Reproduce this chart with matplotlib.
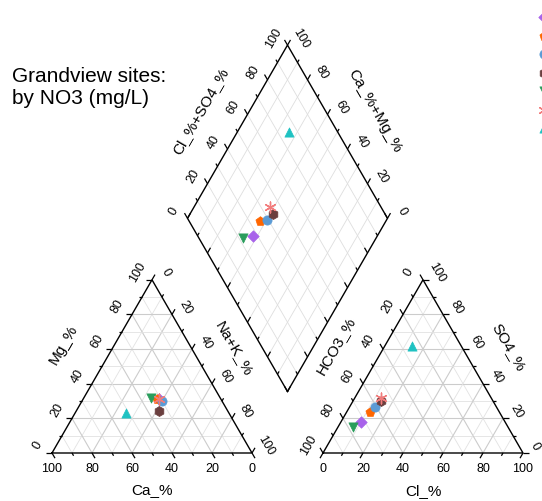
import numpy as np
import matplotlib
matplotlib.use('Agg')
import matplotlib.pyplot as plt

plt.rcParams['font.family'] = ['Liberation Sans', 'DejaVu Sans']

# site values in percent
colors = ['#a862ea', '#ff6600', '#5b9bd5', '#6b3f3f', '#2a9d5c', '#f27c7c', '#1fc2c2']
markers = ['D', 'p', 'o', 'h', 'v', (6, 2, 0), '^']
sizes = [34, 48, 44, 52, 44, 60, 44]
ca = [31, 32, 30, 34.5, 34.5, 31, 51.5]
mg = [31, 31, 30, 24, 32, 31, 23]
cl = [9.8, 11.75, 12.8, 14, 7.4, 13.2, 13.5]
so4 = [18, 23.5, 26.4, 29.9, 14.8, 31.6, 62]
ticks = [0, 20, 40, 60, 80, 100]

S = np.sqrt(3) / 2
G = 0.355
B = np.array([1 + G / 2, G * S])
U1 = np.array([0.5, S])
U2 = np.array([-0.5, S])

'''cation triangle position'''
def cat_xy(c, m):
    n = 1 - c - m
    return np.array([n + m / 2, m * S])

'''anion triangle position'''
def an_xy(c, s):
    return np.array([1 + G + c + s / 2, s * S])

'''diamond position'''
def dia_xy(a, c):
    return B + a * U1 + c * U2

fig = plt.figure(figsize=(5.42, 5.02), dpi=100)
ax = fig.add_axes([0, 0, 1, 1])
ax.set_xlim(-0.26, 2.45)
ax.set_ylim(-0.24, 2.27)
ax.axis('off')

def seg(p, q, **kw):
    ax.plot([p[0], q[0]], [p[1], q[1]], solid_capstyle='butt', **kw)

def grid_style(k):
    if k % 20 == 0:
        return dict(color='#cccccc', lw=0.8, zorder=1)
    return dict(color='#e2e2e2', lw=0.6, zorder=1)

def tick(p, d, k):
    ln = 0.03 if k % 20 == 0 else 0.016
    d = np.array(d) / np.hypot(*d)
    seg(p, p + d * ln, color='black', lw=0.9, zorder=3)

fs_t = 9
# grids and ticks
for k in range(0, 101, 10):
    f = k / 100
    if 0 < k < 100:
        st = grid_style(k)
        # cation
        seg(cat_xy(1 - f, f), cat_xy(0, f), **st)
        seg(cat_xy(1 - f, 0), cat_xy(0, 1 - f), **st)
        seg(cat_xy(f, 0), cat_xy(f, 1 - f), **st)
        # anion
        seg(an_xy(0, f), an_xy(1 - f, f), **st)
        seg(an_xy(f, 0), an_xy(f, 1 - f), **st)
        seg(an_xy(1 - f, 0), an_xy(0, 1 - f), **st)
        # diamond
        dst = dict(color='#dedede', lw=0.6, zorder=1)
        seg(dia_xy(f, 0), dia_xy(f, 1), **dst)
        seg(dia_xy(0, f), dia_xy(1, f), **dst)
    # cation ticks
    tick(cat_xy(f, 0), (0.5, -S), k)
    tick(cat_xy(1 - f, f), (-1, 0), k)
    tick(cat_xy(0, 1 - f), (0.5, S), k)
    # anion ticks
    tick(an_xy(f, 0), (-0.5, -S), k)
    tick(an_xy(0, f), (-0.5, S), k)
    tick(an_xy(1 - f, f), (1, 0), k)
    # diamond ticks
    tick(dia_xy(f, 1), U2, k)
    tick(dia_xy(1, f), U1, k)
    tick(dia_xy(0, f), U1, k)
    tick(dia_xy(f, 0), U2, k)

for k in ticks:
    f = k / 100
    nl = np.array([-S, 0.5])
    nr = np.array([S, 0.5])
    p = cat_xy(f, 0)
    ax.text(p[0], p[1] - 0.075, str(k), ha='center', va='center', fontsize=fs_t)
    p = cat_xy(1 - f, f) + nl * 0.085
    ax.text(p[0], p[1], str(k), ha='center', va='center', fontsize=fs_t, rotation=60)
    p = cat_xy(0, 1 - f) + nr * 0.08
    ax.text(p[0], p[1], str(k), ha='center', va='center', fontsize=fs_t, rotation=-60)
    p = an_xy(f, 0)
    ax.text(p[0], p[1] - 0.075, str(k), ha='center', va='center', fontsize=fs_t)
    p = an_xy(0, 1 - f) + nl * 0.085
    ax.text(p[0], p[1], str(k), ha='center', va='center', fontsize=fs_t, rotation=60)
    p = an_xy(1 - f, f) + nr * (0.08 if k > 0 else 0.07)
    ax.text(p[0], p[1], str(k), ha='center', va='center', fontsize=fs_t, rotation=-60)
    p = dia_xy(f, 1) + np.array([-S, 0.5]) * 0.08
    ax.text(p[0], p[1], str(k), ha='center', va='center', fontsize=fs_t, rotation=60)
    p = dia_xy(1, f) + np.array([S, 0.5]) * 0.08
    ax.text(p[0], p[1], str(k), ha='center', va='center', fontsize=fs_t, rotation=-60)

# outlines
edge = dict(color='black', lw=1.0, zorder=3)
tri_c = [cat_xy(1, 0), cat_xy(0, 0), cat_xy(0, 1), cat_xy(1, 0)]
tri_a = [an_xy(0, 0), an_xy(1, 0), an_xy(0, 1), an_xy(0, 0)]
dia = [dia_xy(0, 0), dia_xy(1, 0), dia_xy(1, 1), dia_xy(0, 1), dia_xy(0, 0)]
for poly in (tri_c, tri_a, dia):
    poly = np.array(poly)
    ax.plot(poly[:, 0], poly[:, 1], **edge)

# axis titles
fs_l = 11
def label(txt, p, n, dist, rot):
    q = p + np.array(n) * dist
    ax.text(q[0], q[1], txt, ha='center', va='center', fontsize=fs_l, rotation=rot)

label('Ca_%', cat_xy(0.5, 0), (0, -1), 0.18, 0)
label('Mg_%', cat_xy(0.5, 0.5), (-S, 0.5), 0.225, 60)
label('Na+K_%', cat_xy(0, 0.5), (S, 0.5), 0.185, -60)
label('Cl_%', an_xy(0.5, 0), (0, -1), 0.185, 0)
label('HCO3_%', an_xy(0, 0.5), (-S, 0.5), 0.215, 60)
label('SO4_%', an_xy(0.5, 0.5), (S, 0.5), 0.205, -60)
label('Cl_%+SO4_%', dia_xy(0.5, 1), (-S, 0.5), 0.215, 60)
label('Ca_%+Mg_%', dia_xy(1, 0.5), (S, 0.5), 0.215, -60)

# points
handles = []
for i in range(len(ca)):
    c = ca[i] / 100
    m = mg[i] / 100
    a_cl = cl[i] / 100
    a_so = so4[i] / 100
    pts = np.array([cat_xy(c, m), an_xy(a_cl, a_so), dia_xy(a_cl + a_so, c + m)])
    kw = dict(marker=markers[i], s=sizes[i], zorder=5 + i)
    if i == 5:
        h = ax.scatter(pts[:, 0], pts[:, 1], color=colors[i], linewidths=1.0, **kw)
    else:
        h = ax.scatter(pts[:, 0], pts[:, 1], color=colors[i], edgecolors=colors[i],
                       linewidths=0.5, **kw)
    handles.append(h)

fig.legend(handles, [''] * len(handles), loc='upper left',
           bbox_to_anchor=(537 / 542, 1 - 11 / 502), frameon=False, fontsize=10,
           handlelength=1.0, handletextpad=0.4, borderpad=0, borderaxespad=0,
           labelspacing=0.32, scatterpoints=1)

fig.text(12 / 542, 1 - 87 / 502, 'Grandview sites:\nby NO3 (mg/L)', fontsize=15,
         ha='left', va='center', linespacing=1.2)

fig.savefig('out.png', dpi=100)
